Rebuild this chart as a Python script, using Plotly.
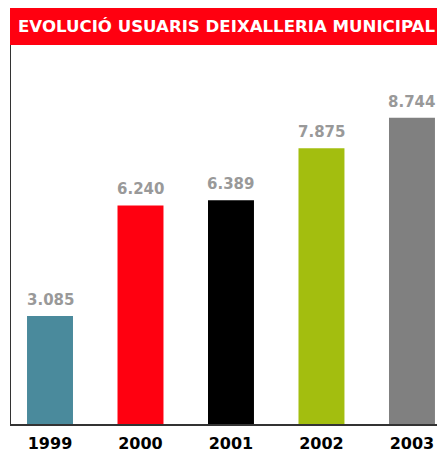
import plotly.graph_objects as go

years = ["1999", "2000", "2001", "2002", "2003"]
values = [3085, 6240, 6389, 7875, 8744]
labels = ["3.085", "6.240", "6.389", "7.875", "8.744"]
colors = ["#4a8a9c", "#ff0010", "#000000", "#a3be0f", "#808080"]
title_text = "EVOLUCIÓ USUARIS DEIXALLERIA MUNICIPAL"

fig = go.Figure(go.Bar(
    x=years, y=values,
    marker=dict(color=colors, line=dict(width=0)),
    width=0.508,
))

annotations = [dict(
    x=i, y=v, text=lb, xref="x", yref="y",
    xanchor="center", yanchor="bottom", yshift=5, showarrow=False,
    font=dict(family="DejaVu Sans", size=15, color="#999999", weight="bold"),
) for i, (v, lb) in enumerate(zip(values, labels))]

annotations.append(dict(
    text=title_text, xref="paper", yref="paper",
    x=0.012, y=1.0488, xanchor="left", yanchor="middle", showarrow=False,
    font=dict(family="DejaVu Sans", size=16.6, color="white", weight="bold"),
))

fig.update_layout(
    width=437, height=445,
    margin=dict(l=3, r=0, t=37, b=29, pad=0),
    paper_bgcolor="white", plot_bgcolor="white",
    showlegend=False,
    xaxis=dict(
        type="category", range=[-0.431, 4.365], automargin=False,
        showline=True, linecolor="#333333", linewidth=2,
        showgrid=False, zeroline=False,
        ticks="", ticklabelstandoff=4,
        tickfont=dict(family="DejaVu Sans", size=16, color="#000000", weight="bold"),
    ),
    yaxis=dict(
        range=[0, 10820], showline=True, linecolor="#333333", linewidth=1,
        automargin=False,
        showgrid=False, zeroline=False, showticklabels=False, ticks="",
    ),
    shapes=[dict(
        type="rect", xref="paper", yref="paper",
        x0=-0.0023, x1=1.01, y0=1.0, y1=1.0976,
        fillcolor="#ff0010", line=dict(width=0), layer="above",
    )],
    annotations=annotations,
)

fig.write_html("out.html")
